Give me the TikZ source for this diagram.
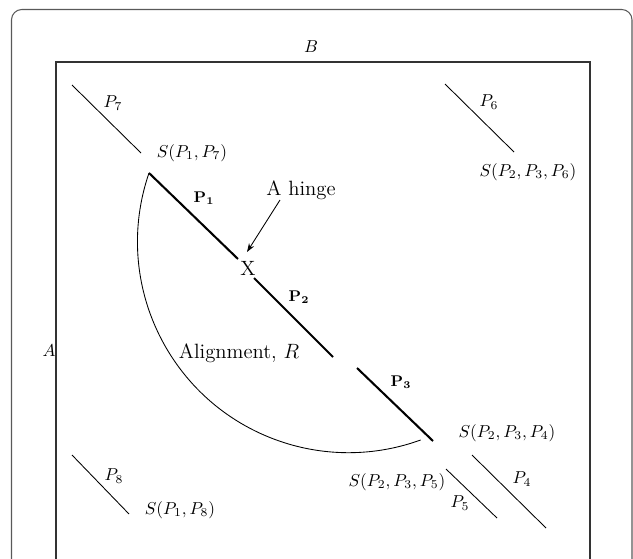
\documentclass[tikz,border=0pt]{standalone}
\usetikzlibrary{arrows.meta}
\begin{document}
\begin{tikzpicture}[x=0.58pt,y=-0.58pt,
  thinseg/.style={line width=0.5pt},
  thickseg/.style={line width=1.2pt},
  lbl/.style={inner sep=0pt},
  boldlbl/.style={inner sep=0pt,font=\small},
  biglbl/.style={inner sep=0pt,font=\large}]
\useasboundingbox (0,0) rectangle (633,559);
% frames
\draw[black!65,line width=0.6pt,rounded corners=6pt] (11.5,9.5) rectangle (632,620);
\draw[black!80,line width=0.7pt] (56,62) rectangle (590,620);
\node[lbl] (B) at (311,47) {$B$};
\node[lbl] (A) at (49,351) {$A$};
% P7
\coordinate (p7a) at (72,85); \coordinate (p7b) at (141,153);
\draw[thinseg] (p7a) -- (p7b);
\node[lbl] (P7) at (113,103) {$P_7$};
\node[lbl] (S17) at (192,153) {$S(P_1,P_7)$};
% P6
\coordinate (p6a) at (445,84); \coordinate (p6b) at (514,152);
\draw[thinseg] (p6a) -- (p6b);
\node[lbl] (P6) at (489,102) {$P_6$};
\node[lbl] (S236) at (528,172) {$S(P_2,P_3,P_6)$};
% main alignment
\coordinate (p1a) at (149,173); \coordinate (p1b) at (238,259);
\coordinate (p2a) at (254,278); \coordinate (p2b) at (333,357);
\coordinate (p3a) at (357,368); \coordinate (p3b) at (433,441);
\draw[thickseg] (p1a) -- (p1b);
\draw[thickseg] (p2a) -- (p2b);
\draw[thickseg] (p3a) -- (p3b);
\node[biglbl] (X) at (248,268) {X};
\node[boldlbl] (L1) at (204,198) {$\mathbf{P_1}$};
\node[boldlbl] (L2) at (299,297) {$\mathbf{P_2}$};
\node[boldlbl] (L3) at (401,382) {$\mathbf{P_3}$};
\node[biglbl] (hinge) at (301,190) {A hinge};
\coordinate (hingeTip) at (247,252);
\draw[-{Stealth[length=5pt,width=3.5pt]},line width=0.5pt] (280,200) -- (hingeTip);
\coordinate (arcStart) at (149,173);
\draw[thinseg] (arcStart) arc[start angle=199, end angle=70, radius=211];
\node[biglbl] (align) at (239,353) {Alignment, $R$};
% P4, P5
\node[lbl] (S234) at (507,433) {$S(P_2,P_3,P_4)$};
\node[lbl] (S235) at (397,482) {$S(P_2,P_3,P_5)$};
\coordinate (p5a) at (446,469); \coordinate (p5b) at (497,518);
\draw[thinseg] (p5a) -- (p5b);
\node[lbl] (P5) at (460,503) {$P_5$};
\coordinate (p4a) at (472,455); \coordinate (p4b) at (546,528);
\draw[thinseg] (p4a) -- (p4b);
\node[lbl] (P4) at (522,479) {$P_4$};
% P8
\coordinate (p8a) at (72,455); \coordinate (p8b) at (129,514);
\draw[thinseg] (p8a) -- (p8b);
\node[lbl] (P8) at (114,476) {$P_8$};
\node[lbl] (S18) at (180,510) {$S(P_1,P_8)$};
\end{tikzpicture}
\end{document}
